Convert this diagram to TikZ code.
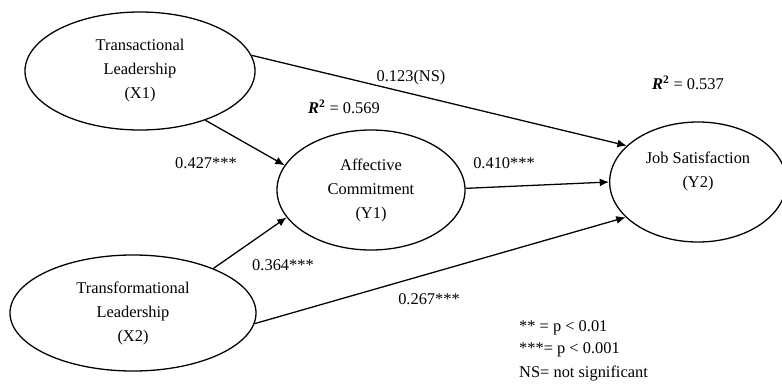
\documentclass[tikz,border=0pt]{standalone}
\usepackage{fontspec}
\setmainfont{Liberation Serif}
\usepackage{tikz}
\usetikzlibrary{positioning,calc,arrows.meta,shapes.geometric}

\begin{document}
\begin{tikzpicture}[
            x=0.03cm, y=-0.03cm,
            font=\fontsize{14}{20.5}\selectfont,
            latent node/.style={ellipse,draw,line width=1.1pt,inner sep=0pt,align=center},
            path label/.style={inner sep=0pt,anchor=center},
            every edge/.style={draw,line width=1.1pt,-{Latex[length=2.8mm,width=2.4mm]}},
        ]
            \useasboundingbox (0,0) rectangle (782,383);

            \node[latent node, minimum width=6.9cm, minimum height=3.54cm] (x1) at (140,71) {Transactional\\Leadership\\(X1)};
            \node[latent node, minimum width=5.64cm, minimum height=3.6cm] (y1) at (371,190) {Affective\\Commitment\\(Y1)};
            \node[latent node, minimum width=5.3cm, minimum height=3.6cm] (y2) at (698,182) {Job Satisfaction\\(Y2)\\~};
            \node[latent node, minimum width=7.38cm, minimum height=3.48cm] (x2) at (133,313) {Transformational\\Leadership\\(X2)};

            \path (x1.8) edge (y2.153);
            \path (x1.-37) edge (y1.164);
            \path (y1.1) edge (y2.west);
            \path (x2.29) edge (y1.198);
            \path (x2.-5) edge (y2.206);

            % coefficients
            \node[path label] (c_x1y2) at (411,78) {0.123(NS)};
            \node[path label] (c_x1y1) at (206,163) {0.427***};
            \node[path label] (c_y1y2) at (504,163) {0.410***};
            \node[path label] (c_x2y1) at (283,265) {0.364***};
            \node[path label] (c_x2y2) at (429,299) {0.267***};

            % explained variance
            \node[path label] (r2_y1) at (344,107) {\textbf{\textit{R}\textsuperscript{2}} = 0.569};
            \node[path label] (r2_y2) at (688,83) {\textbf{\textit{R}\textsuperscript{2}} = 0.537};

            % legend
            \node[path label, anchor=west] (leg1) at (519,328) {** = p < 0.01};
            \node[path label, anchor=west] (leg2) at (519,350) {***= p < 0.001};
            \node[path label, anchor=west] (leg3) at (519,373) {NS= not significant};
        \end{tikzpicture}
\end{document}
